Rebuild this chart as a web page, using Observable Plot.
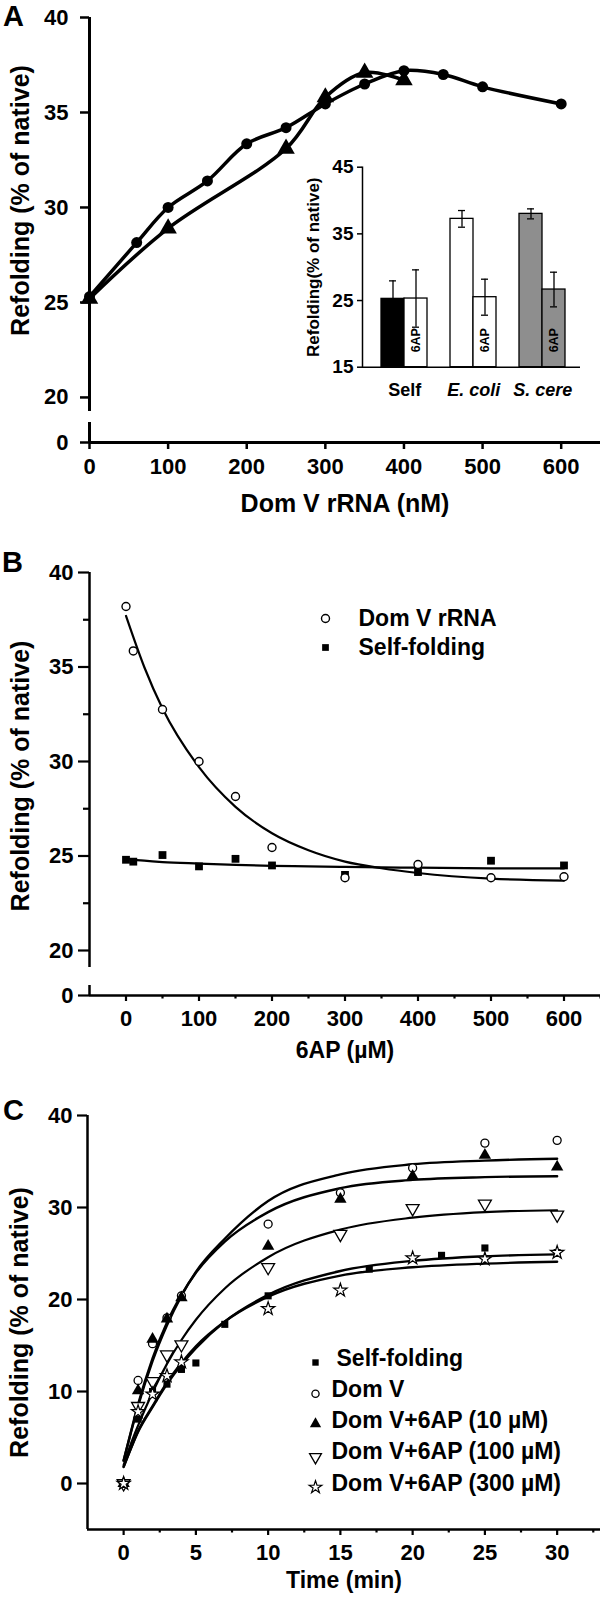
<!DOCTYPE html>
<html><head><meta charset="utf-8">
<script src="https://cdn.jsdelivr.net/npm/d3@7"></script>
<script src="https://cdn.jsdelivr.net/npm/@observablehq/plot@0.6"></script>
<style>
body{margin:0;background:#fff;color:#000;}
#fig{position:relative;width:600px;height:1598px;overflow:hidden;}
</style></head><body><div id="fig"></div>
<script>
// ---------- Panel A: main ----------
const aConc = [0, 60, 100, 150, 200, 250, 300, 350, 400, 450, 500, 600];
const aDomV = [25.3, 28.15, 30.0, 31.4, 33.35, 34.2, 35.45, 36.5, 37.2, 37.0, 36.35, 35.45];
const aConcTri = [0, 100, 250, 300, 350, 400];
const aTri = [25.2, 28.9, 33.1, 35.8, 37.1, 36.7];
const aYTicks = [20, 25, 30, 35, 40];
const aXTicks = [0, 100, 200, 300, 400, 500, 600];
// ---------- Panel A: inset ----------
const insetGroups = ["Self", "E. coli", "S. cere"];
const insetNo6AP = [25.25, 37.25, 38.0];
const insetNo6APErr = [2.7, 1.25, 0.75];
const insetWith6AP = [25.3, 25.5, 26.65];
const insetWith6APErr = [4.3, 2.7, 2.6];
const insetYTicks = [15, 25, 35, 45];
// ---------- Panel B ----------
const bConc = [0, 10, 50, 100, 150, 200, 300, 400, 500, 600];
const bDomV = [38.2, 35.85, 32.75, 30.0, 28.15, 25.45, 23.85, 24.55, 23.85, 23.9];
const bSelf = [24.8, 24.7, 25.05, 24.45, 24.85, 24.5, 24.0, 24.15, 24.75, 24.5];
const bFitConc = [0, 25, 50, 100, 150, 200, 250, 300, 350, 400, 500, 600];
const bFitDomV = [37.7, 35.0, 32.8, 29.7, 27.6, 26.2, 25.3, 24.7, 24.35, 24.1, 23.8, 23.7];
const bFitSelf = [24.85, 24.75, 24.68, 24.6, 24.53, 24.48, 24.45, 24.42, 24.4, 24.38, 24.35, 24.34];
const bYTicks = [20, 25, 30, 35, 40];
const bYMinor = [22.5, 27.5, 32.5, 37.5];
const bXTicks = [0, 100, 200, 300, 400, 500, 600];
const bXMinor = [50, 150, 250, 350, 450, 550, 650];
// ---------- Panel C ----------
const cTime = [0, 1, 2, 3, 4, 10, 15, 20, 25, 30];
const cDomV = [0, 11.2, 15.2, 18.0, 20.4, 28.2, 31.6, 34.3, 37.0, 37.3];
const cDomV10 = [0, 10.1, 15.7, 17.9, 20.2, 25.8, 30.9, 33.4, 35.7, 34.4];
const cDomV100 = [0, 8.4, 11.1, 14.0, 15.1, 23.5, 27.1, 29.9, 30.4, 29.2];
const cDomV300 = [0, 7.8, 9.7, 11.7, 13.2, 19.0, 21.0, 24.5, 24.4, 25.1];
const cSelfTime = [0, 1, 2, 3, 4, 5, 7, 10, 17, 22, 25, 30];
const cSelf = [0, 7.0, 10.0, 10.8, 12.4, 13.1, 17.3, 20.4, 23.3, 24.8, 25.6, 25.1];
const cFitTime = [0, 0.5, 1, 2, 3, 4, 5, 7, 10, 15, 20, 25, 30];
const cFitDomV = [2.5, 5.5, 8.4, 13.3, 17.2, 20.4, 23.0, 26.6, 30.7, 33.6, 34.7, 35.1, 35.3];
const cFitDomV10 = [2.5, 5.6, 8.6, 13.6, 17.5, 20.5, 22.9, 26.3, 29.5, 32.1, 33.0, 33.3, 33.4];
const cFitDomV100 = [2.0, 4.3, 6.3, 9.9, 13.0, 15.6, 17.8, 21.2, 24.6, 27.6, 28.9, 29.5, 29.7];
const cFitSelf = [1.8, 3.8, 5.6, 8.3, 10.8, 12.9, 14.7, 17.6, 20.5, 23.1, 24.2, 24.7, 24.9];
const cFitDomV300 = [1.8, 3.8, 5.7, 8.4, 11.0, 13.1, 14.9, 17.6, 20.3, 22.6, 23.5, 23.9, 24.1];
const cYTicks = [0, 10, 20, 30, 40];
const cXTicks = [0, 5, 10, 15, 20, 25, 30];
const cXMinor = [2.5, 7.5, 12.5, 17.5, 22.5, 27.5, 32.5];
const cLegend = ["Self-folding", "Dom V", "Dom V+6AP (10 \u00b5M)", "Dom V+6AP (100 \u00b5M)", "Dom V+6AP (300 \u00b5M)"];

const FONT = "'Liberation Sans', Arial, Helvetica, sans-serif";
const fig = document.getElementById("fig");
function mk(opts, top) {
  const svg = Plot.plot({
    width: 600,
    style: {fontFamily: FONT, fontWeight: "bold", fontSize: "22px", overflow: "visible", background: "transparent", color: "black"},
    ...opts
  });
  svg.style.position = "absolute";
  svg.style.left = "0px";
  svg.style.top = top + "px";
  svg.style.maxWidth = "none";
  fig.appendChild(svg);
  return svg;
}
const zipRows = (xs, ys) => xs.map((x, i) => ({x, y: ys[i]}));
const triDown = {
  draw(ctx, size) {
    const y = -Math.sqrt(size / (Math.sqrt(3) * 3));
    ctx.moveTo(0, -2 * y);
    ctx.lineTo(-Math.sqrt(3) * y, y);
    ctx.lineTo(Math.sqrt(3) * y, y);
    ctx.closePath();
  }
};
const noText = () => "";
const plain = d => String(d);

// ===== Panel A upper =====
const aCirc = zipRows(aConc, aDomV);
const aTriRows = zipRows(aConcTri, aTri);
mk({
  height: 415, marginTop: 17, marginBottom: 4, marginLeft: 89, marginRight: 0,
  x: {domain: [0, 650], label: null, axis: null},
  y: {domain: [19.26, 40], label: null},
  marks: [
    Plot.ruleX([0], {strokeWidth: 3}),
    Plot.axisY({ticks: aYTicks, tickSize: 9, tickPadding: 12, strokeWidth: 2.5, fontSize: 22, label: null, tickFormat: plain}),
    Plot.line(aCirc, {x: "x", y: "y", curve: "catmull-rom", strokeWidth: 3.5}),
    Plot.line(aTriRows, {x: "x", y: "y", curve: "catmull-rom", strokeWidth: 3.5}),
    Plot.dot(aCirc, {x: "x", y: "y", r: 5.5, fill: "black"}),
    Plot.dot(aTriRows, {x: "x", y: "y", symbol: "triangle", r: 6.5, fill: "black"}),
    Plot.text(["Refolding (% of native)"], {frameAnchor: "left", dx: -69, dy: -14, rotate: -90, textAnchor: "middle", lineAnchor: "middle", fontSize: 25}),
    Plot.text(["A"], {frameAnchor: "top-left", dx: -76, dy: -1, textAnchor: "middle", lineAnchor: "middle", fontSize: 29})
  ]
}, 0);

// ===== Panel A lower (axis break + x axis) =====
mk({
  height: 110, marginTop: 11, marginBottom: 79, marginLeft: 89, marginRight: 0,
  x: {domain: [0, 650], label: null},
  y: {domain: [0, 1], label: null},
  marks: [
    Plot.ruleX([0], {strokeWidth: 3}),
    Plot.ruleY([0], {strokeWidth: 3}),
    Plot.axisY({ticks: [0], tickSize: 9, tickPadding: 12, strokeWidth: 2.5, fontSize: 22, label: null, tickFormat: plain}),
    Plot.axisX({ticks: aXTicks, tickSize: 7, tickPadding: 9, strokeWidth: 2.5, fontSize: 22, label: null, tickFormat: plain}),
    Plot.text(["Dom V rRNA (nM)"], {frameAnchor: "bottom", dy: 61, textAnchor: "middle", lineAnchor: "middle", fontSize: 25})
  ]
}, 411);

// ===== Panel A inset =====
const insetRows = insetGroups.flatMap((g, i) => [
  {key: g, group: g, value: insetNo6AP[i], err: insetNo6APErr[i], ap: false},
  {key: g + " +6AP", group: g, value: insetWith6AP[i], err: insetWith6APErr[i], ap: true}
]);
const insetKeys = ["Self", "Self +6AP", "gap1", "E. coli", "E. coli +6AP", "gap2", "S. cere", "S. cere +6AP"];
const insetBarKeys = insetRows.map(d => d.key);
mk({
  height: 420, marginTop: 166.7, marginBottom: 53.3, marginLeft: 362, marginRight: 20,
  x: {type: "band", domain: insetKeys, paddingInner: 0, paddingOuter: 0.678, align: 0.55, axis: null, label: null},
  y: {domain: [15, 45], label: null},
  color: {domain: insetBarKeys, range: ["black", "white", "white", "white", "#8e8e8e", "#8e8e8e"]},
  marks: [
    Plot.barY(insetRows, {x: "key", y1: 15, y2: "value", fill: "key", stroke: "black", strokeWidth: 1.3}),
    Plot.ruleX(insetRows, {x: "key", y1: d => d.value - d.err, y2: d => d.value + d.err, strokeWidth: 1.3}),
    Plot.tickY(insetRows, {x: "key", y: d => d.value + d.err, insetLeft: 8, insetRight: 8, strokeWidth: 1.3}),
    Plot.tickY(insetRows, {x: "key", y: d => d.value - d.err, insetLeft: 8, insetRight: 8, strokeWidth: 1.3}),
    Plot.frame({anchor: "left", strokeWidth: 1.5}),
    Plot.ruleY([15], {strokeWidth: 1.5}),
    Plot.axisY({ticks: insetYTicks, tickSize: 5, tickPadding: 4, strokeWidth: 1.5, fontSize: 19, label: null, tickFormat: plain}),
    Plot.text(insetRows.filter(d => d.ap), {x: "key", y: 15, dy: -27, rotate: -90, text: () => "6AP", textAnchor: "middle", lineAnchor: "middle", fontSize: 12.5}),
    Plot.text(insetRows.filter(d => !d.ap && d.group === "Self"), {x: "key", y: 15, dx: 11.65, dy: 23, text: "group", textAnchor: "middle", lineAnchor: "middle", fontSize: 18}),
    Plot.text(insetRows.filter(d => !d.ap && d.group !== "Self"), {x: "key", y: 15, dx: 11.65, dy: 23, text: "group", textAnchor: "middle", lineAnchor: "middle", fontSize: 18, fontStyle: "italic"}),
    Plot.text(["Refolding(% of native)"], {frameAnchor: "left", dx: -49, rotate: -90, textAnchor: "middle", lineAnchor: "middle", fontSize: 17})
  ]
}, 0);

// ===== Panel B upper =====
const bDomVRows = zipRows(bConc, bDomV);
const bSelfRows = zipRows(bConc, bSelf);
mk({
  height: 441, marginTop: 42, marginBottom: 4, marginLeft: 89, marginRight: 0,
  x: {domain: [-50, 650], label: null, axis: null},
  y: {domain: [19.1, 40], label: null},
  marks: [
    Plot.ruleX([-50], {strokeWidth: 2.5}),
    Plot.axisY({ticks: bYTicks, tickSize: 11, tickPadding: 5, strokeWidth: 2.2, fontSize: 22, label: null, tickFormat: plain}),
    Plot.axisY({ticks: bYMinor, tickSize: 6, tickFormat: noText, strokeWidth: 2.2, label: null}),
    Plot.line(zipRows(bFitConc, bFitDomV), {x: "x", y: "y", curve: "monotone-x", strokeWidth: 2.2}),
    Plot.line(zipRows(bFitConc, bFitSelf), {x: "x", y: "y", curve: "monotone-x", strokeWidth: 2.2}),
    Plot.dot(bSelfRows, {x: "x", y: "y", symbol: "square", r: 4.4, fill: "black"}),
    Plot.dot(bDomVRows, {x: "x", y: "y", r: 4, fill: "white", stroke: "black", strokeWidth: 1.4}),
    Plot.dot(["Dom V rRNA"], {frameAnchor: "top-left", dx: 236, dy: 46, r: 4, fill: "white", stroke: "black", strokeWidth: 1.4}),
    Plot.dot(["Self-folding"], {frameAnchor: "top-left", dx: 236, dy: 75, symbol: "square", r: 3.8, fill: "black"}),
    Plot.text(["Dom V rRNA"], {frameAnchor: "top-left", dx: 269, dy: 46, textAnchor: "start", lineAnchor: "middle", fontSize: 23}),
    Plot.text(["Self-folding"], {frameAnchor: "top-left", dx: 269, dy: 75, textAnchor: "start", lineAnchor: "middle", fontSize: 23}),
    Plot.text(["Refolding (% of native)"], {frameAnchor: "left", dx: -69, dy: 6, rotate: -90, textAnchor: "middle", lineAnchor: "middle", fontSize: 25}),
    Plot.text(["B"], {frameAnchor: "top-left", dx: -77, dy: -10, textAnchor: "middle", lineAnchor: "middle", fontSize: 29})
  ]
}, 530);

// ===== Panel B lower =====
mk({
  height: 110, marginTop: 18, marginBottom: 82, marginLeft: 89, marginRight: 0,
  x: {domain: [-50, 650], label: null},
  y: {domain: [0, 1], label: null},
  marks: [
    Plot.ruleX([-50], {strokeWidth: 2.5}),
    Plot.ruleY([0], {strokeWidth: 2.5}),
    Plot.axisY({ticks: [0], tickSize: 11, tickPadding: 5, strokeWidth: 2.2, fontSize: 22, label: null, tickFormat: plain}),
    Plot.axisX({ticks: bXTicks, tickSize: 6, tickPadding: 9, strokeWidth: 2.2, fontSize: 22, label: null, tickFormat: plain}),
    Plot.axisX({ticks: bXMinor, tickSize: 3.5, tickFormat: noText, strokeWidth: 2.2, label: null}),
    Plot.text(["6AP (\u00b5M)"], {frameAnchor: "bottom", dy: 55, textAnchor: "middle", lineAnchor: "middle", fontSize: 23})
  ]
}, 967);

// ===== Panel C =====
const cLegendDy = cLegend.map((_, i) => 243 + 31.2 * i);
mk({
  height: 538, marginTop: 55, marginBottom: 69, marginLeft: 87, marginRight: 0,
  x: {domain: [-2.5, 33], label: null},
  y: {domain: [-5, 40], label: null},
  marks: [
    Plot.ruleX([-2.5], {strokeWidth: 2.5}),
    Plot.ruleY([-5], {strokeWidth: 2.5}),
    Plot.axisY({ticks: cYTicks, tickSize: 10, tickPadding: 5, strokeWidth: 2.2, fontSize: 22, label: null, tickFormat: plain}),
    Plot.axisX({ticks: cXTicks, tickSize: 6, tickPadding: 9, strokeWidth: 2.2, fontSize: 22, label: null, tickFormat: plain}),
    Plot.axisX({ticks: cXMinor, tickSize: 3.5, tickFormat: noText, strokeWidth: 2.2, label: null}),
    Plot.line(zipRows(cFitTime, cFitDomV), {x: "x", y: "y", curve: "monotone-x", strokeWidth: 2.4}),
    Plot.line(zipRows(cFitTime, cFitDomV10), {x: "x", y: "y", curve: "monotone-x", strokeWidth: 2.4}),
    Plot.line(zipRows(cFitTime, cFitDomV100), {x: "x", y: "y", curve: "monotone-x", strokeWidth: 2.2}),
    Plot.line(zipRows(cFitTime, cFitSelf), {x: "x", y: "y", curve: "monotone-x", strokeWidth: 2.4}),
    Plot.line(zipRows(cFitTime, cFitDomV300), {x: "x", y: "y", curve: "monotone-x", strokeWidth: 2.4}),
    Plot.dot(zipRows(cSelfTime, cSelf), {x: "x", y: "y", symbol: "square", r: 4, fill: "black"}),
    Plot.dot(zipRows(cTime, cDomV), {x: "x", y: "y", r: 4, fill: "white", stroke: "black", strokeWidth: 1.3}),
    Plot.dot(zipRows(cTime, cDomV10), {x: "x", y: "y", symbol: "triangle", r: 4.6, fill: "black"}),
    Plot.dot(zipRows(cTime, cDomV100), {x: "x", y: "y", symbol: triDown, r: 4.8, fill: "white", stroke: "black", strokeWidth: 1.3}),
    Plot.dot(zipRows(cTime, cDomV300), {x: "x", y: "y", symbol: "star", r: 4.2, fill: "white", stroke: "black", strokeWidth: 1.2}),
    // legend
    Plot.dot([cLegend[0]], {frameAnchor: "top-left", dx: 228, dy: cLegendDy[0] + 4, symbol: "square", r: 3.6, fill: "black"}),
    Plot.dot([cLegend[1]], {frameAnchor: "top-left", dx: 228, dy: cLegendDy[1] + 4, r: 3.6, fill: "white", stroke: "black", strokeWidth: 1.3}),
    Plot.dot([cLegend[2]], {frameAnchor: "top-left", dx: 228, dy: cLegendDy[2] + 3, symbol: "triangle", r: 4.2, fill: "black"}),
    Plot.dot([cLegend[3]], {frameAnchor: "top-left", dx: 228, dy: cLegendDy[3] + 5, symbol: triDown, r: 4.4, fill: "white", stroke: "black", strokeWidth: 1.3}),
    Plot.dot([cLegend[4]], {frameAnchor: "top-left", dx: 228, dy: cLegendDy[4] + 4, symbol: "star", r: 4, fill: "white", stroke: "black", strokeWidth: 1.2}),
    ...cLegend.map((t, i) => Plot.text([t], {frameAnchor: "top-left", dx: i === 0 ? 249 : 244, dy: cLegendDy[i], textAnchor: "start", lineAnchor: "middle", fontSize: 23})),
    Plot.text(["Refolding (% of native)"], {frameAnchor: "left", dx: -68, rotate: -90, textAnchor: "middle", lineAnchor: "middle", fontSize: 25}),
    Plot.text(["Time (min)"], {frameAnchor: "bottom", dy: 51, textAnchor: "middle", lineAnchor: "middle", fontSize: 23}),
    Plot.text(["C"], {frameAnchor: "top-left", dx: -74, dy: -5, textAnchor: "middle", lineAnchor: "middle", fontSize: 29})
  ]
}, 1060);
</script></body></html>
